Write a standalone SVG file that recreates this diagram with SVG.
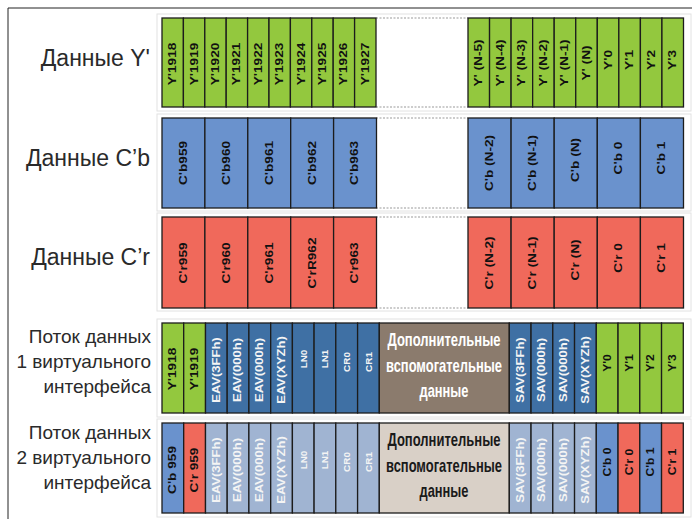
<svg xmlns="http://www.w3.org/2000/svg" width="692" height="519" viewBox="0 0 692 519">
<style>
.lbl{font-family:"Liberation Sans",Arial,sans-serif;fill:#2a2a2a;text-anchor:end}
.big{font-size:23px}
.sm{font-size:19px}
.c{stroke:#1c1c1c;stroke-width:1.3}
.g{fill:#93c83e}
.b{fill:#6a92cd}
.r{fill:#f0695b}
.db{fill:#3f70a4}
.lb{fill:#a0b4d2}
.t{font-family:"Liberation Sans",Arial,sans-serif;font-weight:bold;font-size:10.5px;text-anchor:middle;dominant-baseline:central;fill:#111}
.s{font-size:10px}
.x{font-size:9px}
.w{fill:#f4f4f4}
.anc{font-family:"Liberation Sans Narrow","Liberation Sans",Arial,sans-serif;font-weight:bold;font-size:18.5px;text-anchor:middle}
.panel{fill:none;stroke:#e2e2e2;stroke-width:1}
.dots{stroke:#9a9a9a;stroke-width:1.2;stroke-dasharray:2 1.5}
</style>
<path d="M8,519 V8 H692" fill="none" stroke="#222" stroke-width="1"/>
<g id="panels">
<rect class="panel" x="157" y="14" width="534" height="97"/>
<rect class="panel" x="157" y="114" width="534" height="97"/>
<rect class="panel" x="157" y="213" width="534" height="98"/>
<rect class="panel" x="157" y="319" width="534" height="98"/>
<rect class="panel" x="157" y="419" width="534" height="98"/>
</g>
<g id="labels">
<text class="lbl big" x="150" y="66">Данные Y'</text>
<text class="lbl big" x="150" y="166">Данные C’b</text>
<text class="lbl big" x="150" y="265">Данные C’r</text>
<text class="lbl sm" x="151" y="343">Поток данных</text>
<text class="lbl sm" x="151" y="368">1 виртуального</text>
<text class="lbl sm" x="151" y="393">интерфейса</text>
<text class="lbl sm" x="151" y="439">Поток данных</text>
<text class="lbl sm" x="151" y="464">2 виртуального</text>
<text class="lbl sm" x="151" y="489">интерфейса</text>
</g>
<g id="connectors">
<line class="dots" x1="376" y1="18" x2="468" y2="18"/>
<line class="dots" x1="376" y1="107" x2="468" y2="107"/>
<line class="dots" x1="376" y1="118" x2="468" y2="118"/>
<line class="dots" x1="376" y1="208" x2="468" y2="208"/>
<line class="dots" x1="376" y1="217" x2="468" y2="217"/>
<line class="dots" x1="376" y1="308" x2="468" y2="308"/>
</g>
<g id="row-y">
<g class="c g">
<rect x="162" y="18" width="21.4" height="89"/><rect x="183.4" y="18" width="21.4" height="89"/><rect x="204.8" y="18" width="21.4" height="89"/><rect x="226.2" y="18" width="21.4" height="89"/><rect x="247.6" y="18" width="21.4" height="89"/><rect x="269" y="18" width="21.4" height="89"/><rect x="290.4" y="18" width="21.4" height="89"/><rect x="311.8" y="18" width="21.4" height="89"/><rect x="333.2" y="18" width="21.4" height="89"/><rect x="354.6" y="18" width="21.4" height="89"/>
<rect x="468" y="18" width="21.55" height="89"/><rect x="489.55" y="18" width="21.55" height="89"/><rect x="511.1" y="18" width="21.55" height="89"/><rect x="532.65" y="18" width="21.55" height="89"/><rect x="554.2" y="18" width="21.55" height="89"/><rect x="575.75" y="18" width="21.55" height="89"/><rect x="597.3" y="18" width="21.55" height="89"/><rect x="618.85" y="18" width="21.55" height="89"/><rect x="640.4" y="18" width="21.55" height="89"/><rect x="661.95" y="18" width="21.55" height="89"/>
</g>
<text class="t" transform="translate(172.7,64) rotate(-90) scale(1.3,1)">Y'1918</text>
<text class="t" transform="translate(194.1,64) rotate(-90) scale(1.3,1)">Y'1919</text>
<text class="t" transform="translate(215.5,64) rotate(-90) scale(1.3,1)">Y'1920</text>
<text class="t" transform="translate(236.9,64) rotate(-90) scale(1.3,1)">Y'1921</text>
<text class="t" transform="translate(258.3,64) rotate(-90) scale(1.3,1)">Y'1922</text>
<text class="t" transform="translate(279.7,64) rotate(-90) scale(1.3,1)">Y'1923</text>
<text class="t" transform="translate(301.1,64) rotate(-90) scale(1.3,1)">Y'1924</text>
<text class="t" transform="translate(322.5,64) rotate(-90) scale(1.3,1)">Y'1925</text>
<text class="t" transform="translate(343.9,64) rotate(-90) scale(1.3,1)">Y'1926</text>
<text class="t" transform="translate(365.3,64) rotate(-90) scale(1.3,1)">Y'1927</text>
<text class="t" transform="translate(478.8,63) rotate(-90) scale(1.3,1)">Y' (N-5)</text>
<text class="t" transform="translate(500.3,63) rotate(-90) scale(1.3,1)">Y' (N-4)</text>
<text class="t" transform="translate(521.9,63) rotate(-90) scale(1.3,1)">Y' (N-3)</text>
<text class="t" transform="translate(543.4,63) rotate(-90) scale(1.3,1)">Y' (N-2)</text>
<text class="t" transform="translate(565,63) rotate(-90) scale(1.3,1)">Y' (N-1)</text>
<text class="t" transform="translate(586.5,63) rotate(-90) scale(1.3,1)">Y' (N)</text>
<text class="t" transform="translate(608.1,60) rotate(-90) scale(1.3,1)">Y'0</text>
<text class="t" transform="translate(629.6,60) rotate(-90) scale(1.3,1)">Y'1</text>
<text class="t" transform="translate(651.2,60) rotate(-90) scale(1.3,1)">Y'2</text>
<text class="t" transform="translate(672.7,60) rotate(-90) scale(1.3,1)">Y'3</text>
</g>
<g id="row-cb">
<g class="c b">
<rect x="162" y="118" width="42.9" height="90"/><rect x="204.9" y="118" width="42.9" height="90"/><rect x="247.8" y="118" width="42.9" height="90"/><rect x="290.7" y="118" width="42.9" height="90"/><rect x="333.6" y="118" width="42.9" height="90"/>
<rect x="468" y="118" width="43.1" height="90"/><rect x="511.1" y="118" width="43.1" height="90"/><rect x="554.2" y="118" width="43.1" height="90"/><rect x="597.3" y="118" width="43.1" height="90"/><rect x="640.4" y="118" width="43.1" height="90"/>
</g>
<text class="t" transform="translate(183.45,163) rotate(-90) scale(1.3,1)">C'b959</text>
<text class="t" transform="translate(226.35,163) rotate(-90) scale(1.3,1)">C'b960</text>
<text class="t" transform="translate(269.25,163) rotate(-90) scale(1.3,1)">C'b961</text>
<text class="t" transform="translate(312.15,163) rotate(-90) scale(1.3,1)">C'b962</text>
<text class="t" transform="translate(355.05,163) rotate(-90) scale(1.3,1)">C'b963</text>
<text class="t" transform="translate(489.55,163) rotate(-90) scale(1.3,1)">C'b (N-2)</text>
<text class="t" transform="translate(532.65,163) rotate(-90) scale(1.3,1)">C'b (N-1)</text>
<text class="t" transform="translate(575.75,160) rotate(-90) scale(1.3,1)">C'b (N)</text>
<text class="t" transform="translate(618.85,158) rotate(-90) scale(1.3,1)">C'b 0</text>
<text class="t" transform="translate(661.95,158) rotate(-90) scale(1.3,1)">C'b 1</text>
</g>
<g id="row-cr">
<g class="c r">
<rect x="162" y="217" width="42.9" height="91"/><rect x="204.9" y="217" width="42.9" height="91"/><rect x="247.8" y="217" width="42.9" height="91"/><rect x="290.7" y="217" width="42.9" height="91"/><rect x="333.6" y="217" width="42.9" height="91"/>
<rect x="468" y="217" width="43.1" height="91"/><rect x="511.1" y="217" width="43.1" height="91"/><rect x="554.2" y="217" width="43.1" height="91"/><rect x="597.3" y="217" width="43.1" height="91"/><rect x="640.4" y="217" width="43.1" height="91"/>
</g>
<text class="t" transform="translate(183.45,263) rotate(-90) scale(1.3,1)">C'r959</text>
<text class="t" transform="translate(226.35,263) rotate(-90) scale(1.3,1)">C'r960</text>
<text class="t" transform="translate(269.25,263) rotate(-90) scale(1.3,1)">C'r961</text>
<text class="t" transform="translate(312.15,263) rotate(-90) scale(1.3,1)">C'rR962</text>
<text class="t" transform="translate(355.05,263) rotate(-90) scale(1.3,1)">C'r963</text>
<text class="t" transform="translate(489.55,263) rotate(-90) scale(1.3,1)">C'r (N-2)</text>
<text class="t" transform="translate(532.65,263) rotate(-90) scale(1.3,1)">C'r (N-1)</text>
<text class="t" transform="translate(575.75,260) rotate(-90) scale(1.3,1)">C'r (N)</text>
<text class="t" transform="translate(618.85,258) rotate(-90) scale(1.3,1)">C'r 0</text>
<text class="t" transform="translate(661.95,258) rotate(-90) scale(1.3,1)">C'r 1</text>
</g>
<g id="stream-1">
<g class="c">
<rect class="g" x="162" y="323" width="21.7" height="90"/><rect class="g" x="183.7" y="323" width="21.8" height="90"/>
<rect class="db" x="205.5" y="323" width="21.7" height="90"/><rect class="db" x="227.2" y="323" width="21.7" height="90"/><rect class="db" x="248.9" y="323" width="21.8" height="90"/><rect class="db" x="270.7" y="323" width="21.7" height="90"/><rect class="db" x="292.4" y="323" width="21.7" height="90"/><rect class="db" x="314.1" y="323" width="21.7" height="90"/><rect class="db" x="335.8" y="323" width="21.8" height="90"/><rect class="db" x="357.6" y="323" width="21.7" height="90"/>
<rect x="379.3" y="323" width="130" height="90" fill="#8b7b6d"/>
<rect class="db" x="509.3" y="323" width="21.75" height="90"/><rect class="db" x="531.05" y="323" width="21.75" height="90"/><rect class="db" x="552.8" y="323" width="21.75" height="90"/><rect class="db" x="574.55" y="323" width="21.75" height="90"/>
<rect class="g" x="596.3" y="323" width="21.75" height="90"/><rect class="g" x="618.05" y="323" width="21.75" height="90"/><rect class="g" x="639.8" y="323" width="21.75" height="90"/><rect class="g" x="661.55" y="323" width="21.75" height="90"/>
</g>
<text class="t" transform="translate(172.85,369) rotate(-90) scale(1.3,1)">Y'1918</text>
<text class="t" transform="translate(194.6,369) rotate(-90) scale(1.3,1)">Y'1919</text>
<text class="t s w" transform="translate(216.35,370) rotate(-90) scale(1.3,1)">EAV(3FFh)</text>
<text class="t s w" transform="translate(238.05,370) rotate(-90) scale(1.3,1)">EAV(000h)</text>
<text class="t s w" transform="translate(259.8,370) rotate(-90) scale(1.3,1)">EAV(000h)</text>
<text class="t s w" transform="translate(281.55,370) rotate(-90) scale(1.3,1)">EAV(XYZh)</text>
<text class="t x w" transform="translate(303.25,359) rotate(-90) scale(1.1,1)">LN0</text>
<text class="t x w" transform="translate(324.95,359) rotate(-90) scale(1.1,1)">LN1</text>
<text class="t x w" transform="translate(346.7,362) rotate(-90) scale(1.1,1)">CR0</text>
<text class="t x w" transform="translate(368.45,362) rotate(-90) scale(1.1,1)">CR1</text>
<text class="anc" fill="#ffffff" x="444" y="346" textLength="113" lengthAdjust="spacingAndGlyphs">Дополнительные</text>
<text class="anc" fill="#ffffff" x="444" y="372" textLength="116" lengthAdjust="spacingAndGlyphs">вспомогательные</text>
<text class="anc" fill="#ffffff" x="444" y="397" textLength="49" lengthAdjust="spacingAndGlyphs">данные</text>
<text class="t s w" transform="translate(520.2,370) rotate(-90) scale(1.3,1)">SAV(3FFh)</text>
<text class="t s w" transform="translate(541.9,370) rotate(-90) scale(1.3,1)">SAV(000h)</text>
<text class="t s w" transform="translate(563.7,370) rotate(-90) scale(1.3,1)">SAV(000h)</text>
<text class="t s w" transform="translate(585.4,370) rotate(-90) scale(1.3,1)">SAV(XYZh)</text>
<text class="t" transform="translate(607.2,363) rotate(-90) scale(1.15,1)">Y'0</text>
<text class="t" transform="translate(628.9,363) rotate(-90) scale(1.15,1)">Y'1</text>
<text class="t" transform="translate(650.7,363) rotate(-90) scale(1.15,1)">Y'2</text>
<text class="t" transform="translate(672.4,363) rotate(-90) scale(1.15,1)">Y'3</text>
</g>
<g id="stream-2">
<g class="c">
<rect class="b" x="162" y="423" width="21.7" height="90"/><rect class="r" x="183.7" y="423" width="21.8" height="90"/>
<rect class="lb" x="205.5" y="423" width="21.7" height="90"/><rect class="lb" x="227.2" y="423" width="21.7" height="90"/><rect class="lb" x="248.9" y="423" width="21.8" height="90"/><rect class="lb" x="270.7" y="423" width="21.7" height="90"/><rect class="lb" x="292.4" y="423" width="21.7" height="90"/><rect class="lb" x="314.1" y="423" width="21.7" height="90"/><rect class="lb" x="335.8" y="423" width="21.8" height="90"/><rect class="lb" x="357.6" y="423" width="21.7" height="90"/>
<rect x="379.3" y="423" width="130" height="90" fill="#d9d0c7"/>
<rect class="lb" x="509.3" y="423" width="21.75" height="90"/><rect class="lb" x="531.05" y="423" width="21.75" height="90"/><rect class="lb" x="552.8" y="423" width="21.75" height="90"/><rect class="lb" x="574.55" y="423" width="21.75" height="90"/>
<rect class="b" x="596.3" y="423" width="21.75" height="90"/><rect class="r" x="618.05" y="423" width="21.75" height="90"/><rect class="b" x="639.8" y="423" width="21.75" height="90"/><rect class="r" x="661.55" y="423" width="21.75" height="90"/>
</g>
<text class="t" transform="translate(172.85,470) rotate(-90) scale(1.3,1)">C'b 959</text>
<text class="t" transform="translate(194.6,470) rotate(-90) scale(1.3,1)">C'r 959</text>
<text class="t s w" transform="translate(216.35,470) rotate(-90) scale(1.3,1)">EAV(3FFh)</text>
<text class="t s w" transform="translate(238.05,470) rotate(-90) scale(1.3,1)">EAV(000h)</text>
<text class="t s w" transform="translate(259.8,470) rotate(-90) scale(1.3,1)">EAV(000h)</text>
<text class="t s w" transform="translate(281.55,470) rotate(-90) scale(1.3,1)">EAV(XYZh)</text>
<text class="t x w" transform="translate(303.25,460) rotate(-90) scale(1.1,1)">LN0</text>
<text class="t x w" transform="translate(324.95,460) rotate(-90) scale(1.1,1)">LN1</text>
<text class="t x w" transform="translate(346.7,462) rotate(-90) scale(1.1,1)">CR0</text>
<text class="t x w" transform="translate(368.45,462) rotate(-90) scale(1.1,1)">CR1</text>
<text class="anc" fill="#1a1a1a" x="444" y="446" textLength="113" lengthAdjust="spacingAndGlyphs">Дополнительные</text>
<text class="anc" fill="#1a1a1a" x="444" y="472" textLength="116" lengthAdjust="spacingAndGlyphs">вспомогательные</text>
<text class="anc" fill="#1a1a1a" x="444" y="497" textLength="49" lengthAdjust="spacingAndGlyphs">данные</text>
<text class="t s w" transform="translate(520.2,470) rotate(-90) scale(1.3,1)">SAV(3FFh)</text>
<text class="t s w" transform="translate(541.9,470) rotate(-90) scale(1.3,1)">SAV(000h)</text>
<text class="t s w" transform="translate(563.7,470) rotate(-90) scale(1.3,1)">SAV(000h)</text>
<text class="t s w" transform="translate(585.4,470) rotate(-90) scale(1.3,1)">SAV(XYZh)</text>
<text class="t" transform="translate(607.2,462) rotate(-90) scale(1.15,1)">C'b 0</text>
<text class="t" transform="translate(628.9,462) rotate(-90) scale(1.15,1)">C'r 0</text>
<text class="t" transform="translate(650.7,462) rotate(-90) scale(1.15,1)">C'b 1</text>
<text class="t" transform="translate(672.4,462) rotate(-90) scale(1.15,1)">C'r 1</text>
</g>
</svg>
